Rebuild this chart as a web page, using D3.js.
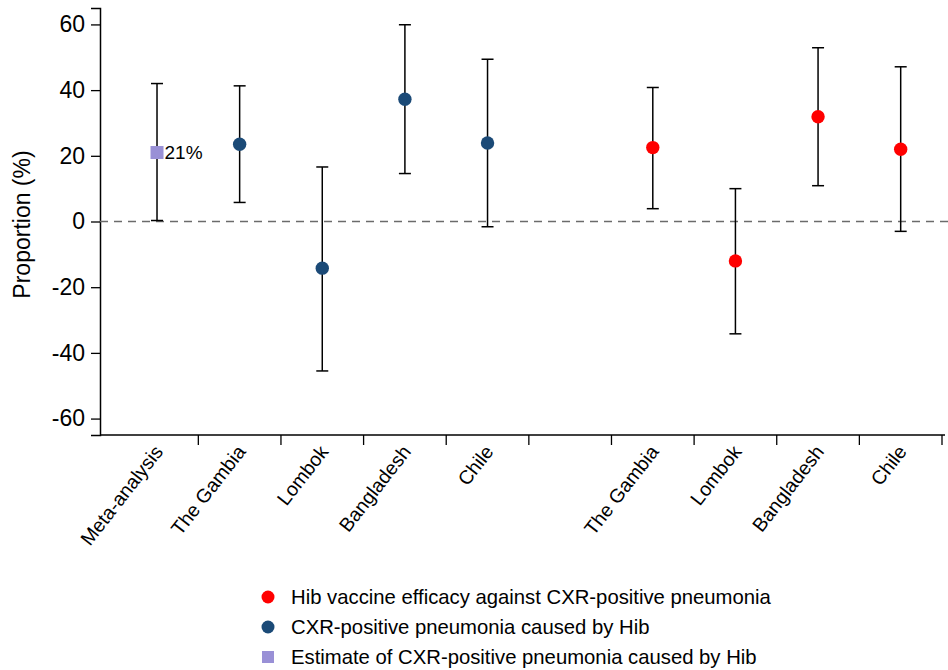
<!DOCTYPE html>
<html><head><meta charset="utf-8">
<script src="https://cdn.jsdelivr.net/npm/d3@7"></script>
<style>body{margin:0;background:#fff}svg{font-family:"Liberation Sans",Arial,sans-serif}</style>
</head><body><svg id="c" width="948" height="670"></svg>
<script>
// categories (keys) and their displayed labels
const categories = ["meta","g1","l1","b1","c1","gap","g2","l2","b2","c2"];
const categoryLabels = ["Meta-analysis","The Gambia","Lombok","Bangladesh","Chile","","The Gambia","Lombok","Bangladesh","Chile"];
// Estimate (meta-analysis)
const metaCats = ["meta"];
const metaValue = [21];
const metaLow = [0.3];
const metaHigh = [42];
// CXR-positive pneumonia caused by Hib
const blueCats = ["g1","l1","b1","c1"];
const blueValue = [23.5, -14.2, 37.2, 23.9];
const blueLow = [5.8, -45.5, 14.6, -1.6];
const blueHigh = [41.3, 16.6, 59.9, 49.4];
// Hib vaccine efficacy against CXR-positive pneumonia
const redCats = ["g2","l2","b2","c2"];
const redValue = [22.5, -12.0, 31.9, 22.0];
const redLow = [3.9, -34.2, 10.9, -3.0];
const redHigh = [40.8, 10.0, 52.9, 47.1];
const yTicks = [-60,-40,-20,0,20,40,60];
const legendLabels = ["Hib vaccine efficacy against CXR-positive pneumonia","CXR-positive pneumonia caused by Hib","Estimate of CXR-positive pneumonia caused by Hib"];

const svg = d3.select("#c");
const x = d3.scaleBand().domain(categories).range([115.7, 942]).padding(0);
const y = d3.scaleLinear().domain([-65, 65]).range([435, 8]);
const axisLeftX = 100;

// y axis
const ya = svg.append("g").attr("transform", `translate(${axisLeftX},0)`)
  .call(d3.axisLeft(y).tickValues(yTicks).tickSizeOuter(0).tickSize(9).tickPadding(6).tickFormat(d => String(d)));
ya.select(".domain").attr("stroke","#000").attr("stroke-width",1.5);
ya.selectAll(".tick line").attr("stroke","#000").attr("stroke-width",1.3);
ya.selectAll(".tick text").attr("font-size",23).attr("fill","#000");

// x axis
const xa = svg.append("g").attr("transform", `translate(0,${y.range()[0]})`)
  .call(d3.axisBottom(x).tickSizeOuter(0).tickSize(10).tickFormat((d,i)=>categoryLabels[i]));
xa.select(".domain").remove();
xa.append("line").attr("x1",axisLeftX).attr("x2",945).attr("y1",0).attr("y2",0).attr("stroke","#000").attr("stroke-width",1.5);
xa.selectAll(".tick line").attr("transform",`translate(${x.bandwidth()/2},0)`).attr("stroke","#000").attr("stroke-width",1.3);
xa.selectAll(".tick text").attr("font-size",19.5).attr("fill","#000")
  .attr("text-anchor","end").attr("dy",0).attr("y",0)
  .attr("transform","translate(7,17) rotate(-52)");

// y-axis title
svg.append("text").attr("transform",`translate(30,${y(0)+3}) rotate(-90)`)
  .attr("text-anchor","middle").attr("font-size",23).text("Proportion (%)");

// zero dashed line
svg.append("line").attr("x1",axisLeftX).attr("x2",948).attr("y1",y(0)).attr("y2",y(0))
  .attr("stroke","#6b6b6b").attr("stroke-width",1.5).attr("stroke-dasharray","8,6");

const cx = c => x(c) + x.bandwidth()/2;
function errbars(cats, lo, hi){
  const g = svg.append("g").attr("stroke","#000").attr("stroke-width",1.5);
  cats.forEach((c,i)=>{
    g.append("line").attr("x1",cx(c)).attr("x2",cx(c)).attr("y1",y(lo[i])).attr("y2",y(hi[i]));
    g.append("line").attr("x1",cx(c)-6).attr("x2",cx(c)+6).attr("y1",y(lo[i])).attr("y2",y(lo[i]));
    g.append("line").attr("x1",cx(c)-6).attr("x2",cx(c)+6).attr("y1",y(hi[i])).attr("y2",y(hi[i]));
  });
}
errbars(metaCats, metaLow, metaHigh);
errbars(blueCats, blueLow, blueHigh);
errbars(redCats, redLow, redHigh);

const blue = "#1b4a77", red = "#ff0000", purple = "#9990d6";
svg.selectAll("circle.b").data(blueCats).join("circle").attr("class","b")
  .attr("cx",d=>cx(d)).attr("cy",(d,i)=>y(blueValue[i])).attr("r",6.7).attr("fill",blue);
svg.selectAll("circle.r").data(redCats).join("circle").attr("class","r")
  .attr("cx",d=>cx(d)).attr("cy",(d,i)=>y(redValue[i])).attr("r",6.7).attr("fill",red);
svg.selectAll("rect.m").data(metaCats).join("rect").attr("class","m")
  .attr("x",d=>cx(d)-6.5).attr("y",(d,i)=>y(metaValue[i])-6.5).attr("width",13).attr("height",13).attr("fill",purple);
svg.selectAll("text.ml").data(metaCats).join("text").attr("class","ml")
  .attr("x",d=>cx(d)+7.5).attr("y",(d,i)=>y(metaValue[i])+6.5).attr("font-size",19).text((d,i)=>metaValue[i]+"%");

// legend
const lg = svg.append("g");
const rowsY = [597, 627, 657];
lg.append("circle").attr("cx",268).attr("cy",rowsY[0]).attr("r",6.5).attr("fill",red);
lg.append("circle").attr("cx",268).attr("cy",rowsY[1]).attr("r",6.5).attr("fill",blue);
lg.append("rect").attr("x",262).attr("y",rowsY[2]-6).attr("width",12).attr("height",12).attr("fill",purple);
legendLabels.forEach((t,i)=>lg.append("text").attr("x",291).attr("y",rowsY[i]+7).attr("font-size",20.3).text(t));
</script></body></html>
